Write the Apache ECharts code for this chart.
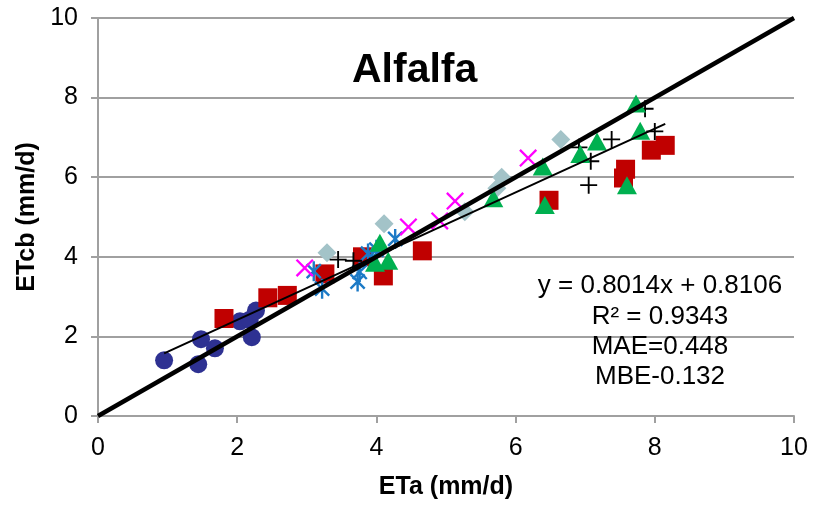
<!DOCTYPE html>
<html>
<head>
<meta charset="utf-8">
<title>Alfalfa</title>
<script src="https://cdn.jsdelivr.net/npm/echarts@6/dist/echarts.min.js"></script>
<style>
  html, body { margin: 0; padding: 0; background: #ffffff; }
  #chart { width: 813px; height: 505px; }
</style>
</head>
<body>
<div id="chart"></div>
<script>
// Measured vs. estimated crop evapotranspiration, one array per dataset: [ETa, ETcb]
const circleData   = [[0.95,1.40],[1.44,1.30],[1.48,1.93],[1.68,1.70],[2.04,2.38],[2.18,2.42],[2.27,2.65],[2.21,1.98]];
const squareData   = [[1.81,2.45],[2.44,2.97],[2.72,3.03],[3.26,3.57],[3.80,4.00],[4.10,3.52],[4.66,4.15],[6.48,5.42],[7.58,6.20],[7.55,5.98],[7.95,6.68],[8.15,6.80]];
const asteriskData = [[3.10,3.64],[3.22,3.20],[3.73,3.38],[3.76,3.62],[3.88,4.08],[3.94,3.98],[4.00,4.18],[4.27,4.45]];
const diamondData  = [[3.29,4.10],[4.11,4.83],[5.27,5.13],[5.73,5.72],[5.80,6.00],[6.65,6.95]];
const crossData    = [[2.97,3.72],[4.46,4.75],[4.91,4.90],[5.13,5.40],[6.18,6.48]];
const plusData     = [[3.45,3.93],[3.67,3.90],[6.91,6.75],[7.38,6.95],[7.86,7.72],[8.00,7.15],[7.08,6.40],[7.05,5.80]];
const triangleData = [[3.98,3.85],[4.05,4.35],[4.17,3.90],[5.68,5.47],[6.39,6.27],[6.42,5.30],[6.93,6.58],[7.17,6.90],[7.60,5.80],[7.73,7.85],[7.79,7.17]];

// Linear fit and error statistics
const SLOPE = 0.8014;
const INTERCEPT = 0.8106;
const R2 = 0.9343;
const MAE = 0.448;
const MBE = -0.132;

// Axis ticks and text
const xTicks = [0, 2, 4, 6, 8, 10];
const yTicks = [0, 2, 4, 6, 8, 10];
const titleText = 'Alfalfa';
const xName = 'ETa (mm/d)';
const yName = 'ETcb (mm/d)';
const statLines = [
  'y = ' + SLOPE.toFixed(4) + 'x + ' + INTERCEPT.toFixed(4),
  'R\u00b2 = ' + R2.toFixed(4),
  'MAE=' + MAE.toFixed(3),
  'MBE' + MBE.toFixed(3)
];

// ---- marker shapes built from thin bars ----
function barPoly(angleDeg, half, thick) {
  const a = angleDeg * Math.PI / 180;
  const dx = Math.cos(a), dy = Math.sin(a);
  const nx = -dy * thick / 2, ny = dx * thick / 2;
  const pts = [
    [ half * dx + nx,  half * dy + ny],
    [ half * dx - nx,  half * dy - ny],
    [-half * dx - nx, -half * dy - ny],
    [-half * dx + nx, -half * dy + ny]
  ];
  return 'M' + pts.map(p => p[0].toFixed(3) + ',' + p[1].toFixed(3)).join(' L') + ' Z';
}
const plusPath = 'path://' + barPoly(0, 10, 2.2) + ' ' + barPoly(90, 10, 2.2);
const crossPath = 'path://' + barPoly(45, 10, 2.0) + ' ' + barPoly(-45, 10, 2.0);
const asteriskPath = 'path://' + barPoly(90, 10, 2.4) + ' ' + barPoly(45, 10, 2.4) + ' ' + barPoly(-45, 10, 2.4);

const allX = [circleData, squareData, asteriskData, diamondData, crossData, plusData, triangleData]
  .flat().map(p => p[0]);
const fitMin = Math.min(...allX), fitMax = Math.max(...allX);
const fitLine = [[fitMin, SLOPE * fitMin + INTERCEPT], [fitMax, SLOPE * fitMax + INTERCEPT]];
const oneToOne = [[xTicks[0], yTicks[0]], [xTicks[xTicks.length - 1], yTicks[yTicks.length - 1]]];

const FONT = '"Liberation Sans", Arial, sans-serif';
const GRID_GRAY = '#a0a0a0';

function scatter(name, data, symbol, size, color, extra) {
  return Object.assign({
    name: name,
    type: 'scatter',
    data: data,
    symbol: symbol,
    symbolSize: size,
    symbolKeepAspect: true,
    itemStyle: { color: color, opacity: 1 },
    emphasis: { disabled: true },
    z: 3
  }, extra || {});
}

const chart = echarts.init(document.getElementById('chart'), null, { renderer: 'canvas' });
chart.setOption({
  animation: false,
  backgroundColor: '#ffffff',
  textStyle: { fontFamily: FONT },
  title: {
    text: titleText,
    left: 347,
    top: 45,
    textStyle: { fontFamily: FONT, fontSize: 41, fontWeight: 'bold', color: '#000' }
  },
  grid: { left: 98, right: 19, top: 18, bottom: 87, containLabel: false },
  xAxis: {
    type: 'value',
    min: xTicks[0],
    max: xTicks[xTicks.length - 1],
    interval: xTicks[1] - xTicks[0],
    name: xName,
    nameLocation: 'middle',
    nameGap: 59,
    nameTextStyle: { fontFamily: FONT, fontSize: 25, fontWeight: 'bold', color: '#000' },
    axisLine: { show: true, onZero: false, lineStyle: { color: GRID_GRAY, width: 2 } },
    axisTick: { show: true, inside: false, length: 7, lineStyle: { color: GRID_GRAY, width: 2 } },
    axisLabel: { fontFamily: FONT, fontSize: 25, color: '#000', margin: 20 },
    splitLine: { show: false }
  },
  yAxis: {
    type: 'value',
    min: yTicks[0],
    max: yTicks[yTicks.length - 1],
    interval: yTicks[1] - yTicks[0],
    name: yName,
    nameLocation: 'middle',
    nameGap: 57,
    nameTextStyle: { fontFamily: FONT, fontSize: 25, fontWeight: 'bold', color: '#000' },
    axisLine: { show: true, onZero: false, lineStyle: { color: GRID_GRAY, width: 2 } },
    axisTick: { show: true, inside: false, length: 7, lineStyle: { color: GRID_GRAY, width: 2 } },
    axisLabel: { fontFamily: FONT, fontSize: 25, color: '#000', margin: 20 },
    splitLine: { show: true, lineStyle: { color: GRID_GRAY, width: 2 } }
  },
  graphic: [{
    type: 'text',
    x: 660,
    y: 271,
    z: 10,
    style: {
      text: statLines.join('\n'),
      font: '26px ' + FONT,
      fill: '#000',
      align: 'center',
      verticalAlign: 'top',
      lineHeight: 30.3
    }
  }],
  series: [
    scatter('circles', circleData, 'circle', 18, '#2e3192'),
    scatter('squares', squareData, 'rect', 19, '#c00000'),
    scatter('asterisks', asteriskData, asteriskPath, 20, '#1c7ac6'),
    scatter('diamonds', diamondData, 'diamond', [19, 19], '#a3c3c8', { symbolKeepAspect: false }),
    scatter('crosses', crossData, crossPath, 18, '#ff00ff'),
    scatter('plus', plusData, plusPath, 17, '#000000'),
    scatter('triangles', triangleData, 'triangle', [20, 18], '#00b050', { symbolKeepAspect: false }),
    {
      name: '1:1',
      type: 'line',
      data: oneToOne,
      symbol: 'none',
      lineStyle: { color: '#000', width: 4.5 },
      silent: true,
      z: 5
    },
    {
      name: 'fit',
      type: 'line',
      data: fitLine,
      symbol: 'none',
      lineStyle: { color: '#000', width: 2 },
      silent: true,
      z: 5
    }
  ]
});
</script>
</body>
</html>
